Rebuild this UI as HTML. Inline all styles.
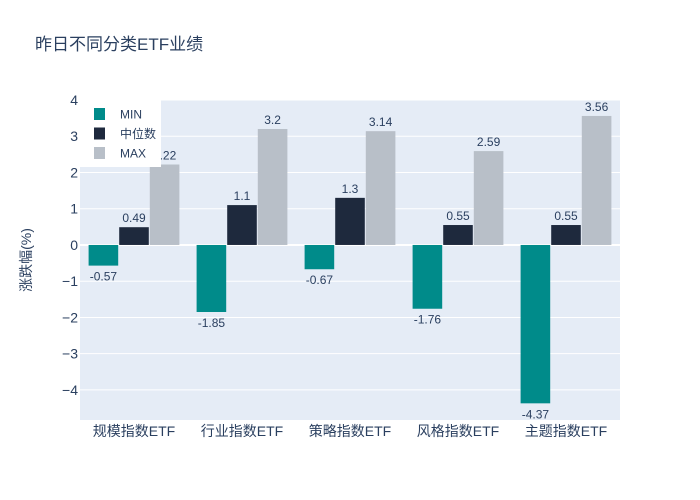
<!DOCTYPE html>
<html><head><meta charset="utf-8"><style>
body{margin:0;background:#fff}
svg{display:block;font-family:"Liberation Sans","Noto Sans CJK SC",sans-serif}
</style></head><body>
<svg id="c" width="700" height="500"></svg>
<script>
const categories=["规模指数ETF","行业指数ETF","策略指数ETF","风格指数ETF","主题指数ETF"];
const minVals=[-0.57,-1.85,-0.67,-1.76,-4.37];
const medVals=[0.49,1.1,1.3,0.55,0.55];
const maxVals=[2.22,3.2,3.14,2.59,3.56];
const minLabels=["-0.57","-1.85","-0.67","-1.76","-4.37"];
const medLabels=["0.49","1.1","1.3","0.55","0.55"];
const maxLabels=["2.22","3.2","3.14","2.59","3.56"];
const yTicks=[-4,-3,-2,-1,0,1,2,3,4];
const seriesNames=["MIN","中位数","MAX"];
const colors=["#008b8a","#1e293d","#b8bfc8"];

const NS="http://www.w3.org/2000/svg";
const svg=document.getElementById('c');
const L=80,R=620,T=100,B=420,yMin=-4.83,yMax=4;
const y=v=>T+(yMax-v)/(yMax-yMin)*(B-T);
const band=(R-L)/categories.length;
const groupW=band*0.85, step=groupW/3;
const x=(i,s)=>L+i*band+(band-groupW)/2+s*step+0.5;
const bw=step-1;
function el(t,a,p){const e=document.createElementNS(NS,t);for(const k in a)e.setAttribute(k,a[k]);(p||svg).appendChild(e);return e;}
function txt(s,a){const e=el('text',a);e.textContent=s;return e;}

const bg=el('rect',{x:L,y:T,width:R-L,height:B-T,fill:'#e5ecf6'});


yTicks.forEach(t=>{
  const g=el('line',{x1:L,x2:R,y1:y(t),y2:y(t),stroke:'#fff','stroke-width':t===0?2:1});
  
  
  const lb=txt(t<0?'−'+(-t):String(t),{x:78,y:y(t)+5,'text-anchor':'end','font-size':14,fill:'#2a3f5f'});
  
  
});
const all=[minVals,medVals,maxVals],labs=[minLabels,medLabels,maxLabels];
categories.forEach((c,i)=>{
  all.forEach((vals,s)=>{
    const v=vals[i];
    const r=el('rect',{x:x(i,s),y:Math.min(y(v),y(0)),width:bw,height:Math.abs(y(v)-y(0)),fill:colors[s]});
    
    
    const lt=txt(labs[s][i],{x:x(i,s)+bw/2,y:v>=0?y(v)-5:y(v)+15,'text-anchor':'middle','font-size':12,fill:'#2a3f5f'});
    
    
  });
  const cl=txt(c,{x:L+band*(i+0.5),y:436,'text-anchor':'middle','font-size':14,fill:'#2a3f5f'});
  
  
});
const lg=el('rect',{x:80,y:100,width:81,height:67,fill:'#fff'});


seriesNames.forEach((n,s)=>{
  const yy=114+s*19.5;
  const sw=el('rect',{x:94,y:yy-6,width:11,height:12,fill:colors[s]});
  
  
  const lt=txt(n,{x:120,y:yy+4.5,'font-size':12,fill:'#2a3f5f'});
  
  
});
const ti=txt('昨日不同分类ETF业绩',{x:35,y:50,'font-size':17,fill:'#2a3f5f'});


const yt=txt('涨跌幅(%)',{x:0,y:0,'text-anchor':'middle','font-size':14,fill:'#2a3f5f',transform:'translate(31,260) rotate(-90)'});


</script>
</body></html>
